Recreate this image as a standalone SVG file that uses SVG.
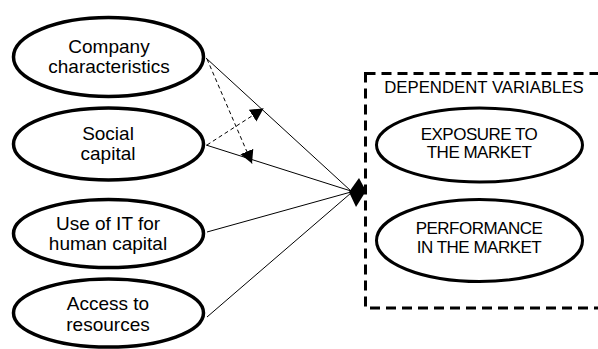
<svg xmlns="http://www.w3.org/2000/svg" width="598" height="349" viewBox="0 0 598 349">
<style>
.node ellipse{fill:#fff;stroke:#000;stroke-width:3.5}
.dep ellipse{fill:#fff;stroke:#000;stroke-width:3}
text{font-family:"Liberation Sans",Arial,sans-serif;fill:#000;text-anchor:middle}
.t{font-size:19px}
.u{font-size:17px;letter-spacing:-0.5px}
.c line{stroke:#000;stroke-width:1}
.c .d{stroke-dasharray:4 3}
</style>
<defs>
<marker id="ah" markerUnits="userSpaceOnUse" markerWidth="15" markerHeight="15" refX="13" refY="7.5" orient="auto" viewBox="0 0 15 15">
<path d="M0,0.5 L13,7.5 L0,14.5 Z" fill="#000"/>
</marker>
</defs>
<rect x="365.5" y="73.5" width="250" height="234.5" fill="none" stroke="#000" stroke-width="3" stroke-dasharray="10 6"/>
<g id="n1" class="node"><ellipse cx="108.5" cy="57" rx="95" ry="39.5"/><text class="t" x="109" y="53">Company</text><text class="t" x="109" y="73">characteristics</text></g>
<g id="n2" class="node"><ellipse cx="108.5" cy="144" rx="95" ry="36"/><text class="t" x="108" y="140">Social</text><text class="t" x="108" y="160">capital</text></g>
<g id="n3" class="node"><ellipse cx="108.5" cy="233.5" rx="95" ry="34"/><text class="t" x="108" y="230">Use of IT for</text><text class="t" x="108" y="250">human capital</text></g>
<g id="n4" class="node"><ellipse cx="108.5" cy="313" rx="95" ry="34"/><text class="t" x="108" y="310">Access to</text><text class="t" x="108" y="331">resources</text></g>
<g id="dep" class="dep">
<text x="484" y="93" style="font-size:16.75px">DEPENDENT VARIABLES</text>
<g id="n5"><ellipse cx="479.5" cy="145" rx="103" ry="37"/><text class="u" x="479" y="139.5">EXPOSURE TO</text><text class="u" x="479" y="158">THE MARKET</text></g>
<g id="n6"><ellipse cx="479.5" cy="240.5" rx="103" ry="41"/><text class="u" x="479" y="233.5">PERFORMANCE</text><text class="u" x="479" y="252.5">IN THE MARKET</text></g>
</g>
<g id="connectors" class="c">
<line x1="206" y1="58" x2="351" y2="191"/>
<line x1="206" y1="145" x2="351" y2="191"/>
<line x1="207" y1="232" x2="351" y2="192"/>
<line x1="207" y1="317" x2="351" y2="193"/>
<line class="d" x1="207" y1="59" x2="252" y2="163.5" marker-end="url(#ah)"/>
<line class="d" x1="207" y1="145" x2="263.5" y2="108.5" marker-end="url(#ah)"/>
<polygon points="349,192 359,178 366,191 356,207" fill="#000"/>
</g>
</svg>
